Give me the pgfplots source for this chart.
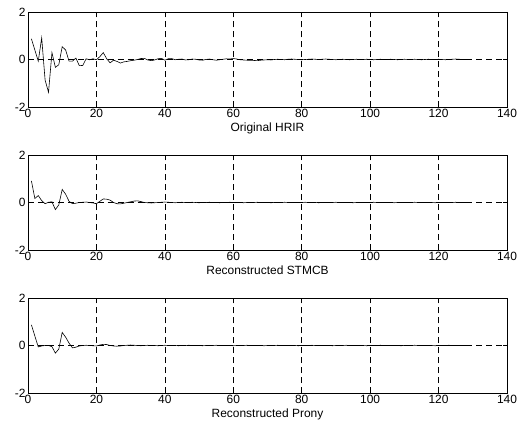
\documentclass[border=0pt]{standalone}
\usepackage{fontspec}
\setmainfont{Liberation Sans}
\usepackage{pgfplots}
\pgfplotsset{compat=1.18}
\usepackage{pgfplotstable}

\pgfplotstableread{
x y
1 0.87
2 0.40
3 -0.07
4 0.91
5 -0.87
6 -1.38
7 0.29
8 -0.33
9 -0.22
10 0.54
11 0.40
12 -0.07
13 -0.07
14 0.06
15 -0.26
16 -0.25
17 0.03
18 -0.01
19 0.03
20 -0.01
21 0.12
22 0.29
23 0.03
24 -0.14
25 -0.03
26 -0.08
27 -0.15
28 -0.10
29 -0.08
30 -0.05
31 -0.03
32 0.00
33 0.04
34 0.05
35 -0.02
36 -0.05
37 -0.02
38 0.03
39 0.05
40 -0.03
41 0.03
42 0.04
43 -0.01
44 0.01
45 0.02
46 -0.02
47 -0.01
48 0.02
49 0.01
50 -0.02
51 -0.03
52 0.00
53 0.02
54 -0.01
55 -0.03
56 -0.01
57 0.01
58 0.03
59 0.02
60 0.04
61 0.02
62 -0.01
63 -0.02
64 -0.03
65 -0.04
66 -0.04
67 -0.05
68 -0.03
69 -0.02
70 -0.01
71 -0.02
72 0.00
73 0.01
74 0.00
75 -0.01
76 0.01
77 0.02
78 0.01
79 0.00
80 -0.01
81 0.00
82 0.01
83 0.02
84 0.01
85 0.00
86 0.01
87 0.02
88 0.01
89 0.00
90 -0.01
91 0.00
92 0.01
93 0.00
94 -0.01
95 0.00
96 0.01
97 0.00
98 0.00
99 0.01
100 0.00
101 -0.01
102 0.00
103 0.01
104 0.00
105 0.00
106 0.01
107 0.00
108 -0.01
109 0.00
110 0.01
111 0.00
112 0.00
113 0.01
114 0.00
115 -0.01
116 0.00
117 0.01
118 0.00
119 0.00
120 0.01
121 0.00
122 -0.01
123 0.00
124 0.01
125 0.02
126 0.01
127 0.00
128 0.00
}\hrir

\pgfplotstableread{
x y
1 0.91
2 0.17
3 0.29
4 0.08
5 -0.05
6 0.01
7 0.03
8 -0.30
9 -0.10
10 0.55
11 0.35
12 0.05
13 -0.05
14 -0.03
15 0.00
16 0.01
17 0.02
18 0.00
19 -0.02
20 -0.05
21 0.05
22 0.15
23 0.14
24 0.10
25 0.00
26 -0.05
27 -0.06
28 -0.03
29 0.00
30 0.03
31 0.06
32 0.07
33 0.04
34 0.00
35 -0.01
36 -0.02
37 -0.01
38 0.00
39 0.01
40 0.02
41 0.01
42 0.00
43 -0.01
44 0.00
45 0.01
46 0.00
47 0.00
48 0.01
49 0.00
50 -0.01
51 0.00
52 0.00
53 0.01
54 0.00
55 0.00
56 -0.01
57 0.00
58 0.00
59 0.01
60 0.00
61 0.00
62 0.00
63 -0.01
64 0.00
65 0.00
66 0.00
67 0.01
68 0.00
69 0.00
70 0.00
71 -0.01
72 0.00
73 0.00
74 0.00
75 0.01
76 0.00
77 0.00
78 0.00
79 0.00
80 0.00
81 0.01
82 0.00
83 0.00
84 0.00
85 -0.01
86 0.00
87 0.00
88 0.00
89 0.00
90 0.01
91 0.00
92 0.00
93 0.00
94 0.00
95 -0.01
96 0.00
97 0.00
98 0.00
99 0.00
100 0.00
101 0.01
102 0.00
103 0.00
104 0.00
105 0.00
106 0.00
107 -0.01
108 0.00
109 0.00
110 0.00
111 0.00
112 0.00
113 0.01
114 0.00
115 0.00
116 0.00
117 0.00
118 0.00
119 -0.01
120 0.00
121 0.00
122 0.00
123 0.00
124 0.00
125 0.01
126 0.00
127 0.00
128 0.00
}\stmcb

\pgfplotstableread{
x y
1 0.87
2 0.40
3 -0.06
4 -0.02
5 0.00
6 0.00
7 -0.05
8 -0.32
9 -0.15
10 0.55
11 0.35
12 0.10
13 -0.10
14 -0.07
15 -0.02
16 0.00
17 0.01
18 0.00
19 -0.01
20 -0.02
21 0.02
22 0.05
23 0.04
24 0.00
25 -0.02
26 -0.03
27 -0.02
28 0.00
29 0.01
30 0.02
31 0.01
32 0.00
33 -0.01
34 0.00
35 0.01
36 0.00
37 0.00
38 -0.01
39 0.00
40 0.01
41 0.00
42 0.00
43 0.00
44 -0.01
45 0.00
46 0.00
47 0.01
48 0.00
49 0.00
50 0.00
51 -0.01
52 0.00
53 0.00
54 0.00
55 0.01
56 0.00
57 0.00
58 0.00
59 0.00
60 -0.01
61 0.00
62 0.00
63 0.00
64 0.01
65 0.00
66 0.00
67 0.00
68 0.00
69 -0.01
70 0.00
71 0.00
72 0.00
73 0.01
74 0.00
75 0.00
76 0.00
77 0.00
78 0.00
79 -0.01
80 0.00
81 0.00
82 0.00
83 0.01
84 0.00
85 0.00
86 0.00
87 0.00
88 0.00
89 -0.01
90 0.00
91 0.00
92 0.00
93 0.01
94 0.00
95 0.00
96 0.00
97 0.00
98 0.00
99 -0.01
100 0.00
101 0.00
102 0.00
103 0.01
104 0.00
105 0.00
106 0.00
107 0.00
108 0.00
109 -0.01
110 0.00
111 0.00
112 0.00
113 0.01
114 0.00
115 0.00
116 0.00
117 0.00
118 0.00
119 -0.01
120 0.00
121 0.00
122 0.00
123 0.01
124 0.00
125 0.00
126 0.00
127 0.00
128 0.00
}\prony

\pgfplotsset{
  hrstyle/.style={
    width=479bp, height=95bp, scale only axis,
    anchor=north west,
    xmin=0, xmax=140, ymin=-2, ymax=2,
    xtick={0,20,...,140}, ytick={-2,0,2},
    grid=major,
    major grid style={black, line width=0.6pt, dash pattern=on 6pt off 4pt},
    axis line style={black, line width=0.8pt},
    tick style={black, line width=0.6pt},
    tick align=inside,
    major tick length=4bp,
    /pgf/number format/assume math mode=true,
    tick label style={font=\fontsize{12}{14}\selectfont},
    label style={font=\fontsize{12}{14}\selectfont},
    xticklabel style={yshift=1bp},
    yticklabel style={xshift=1bp},
    xlabel style={yshift=2bp},
  },
  hrline/.style={black, line width=0.6pt, no marks},
}

\begin{document}
\begin{tikzpicture}
\path[use as bounding box] (0,0) rectangle (526bp,-430bp);
\begin{axis}[hrstyle, at={(28bp,-12bp)}, xlabel={Original HRIR}]
\addplot[hrline] table[x=x,y=y] {\hrir};
\end{axis}
\begin{axis}[hrstyle, at={(28bp,-155bp)}, xlabel={Reconstructed STMCB}]
\addplot[hrline] table[x=x,y=y] {\stmcb};
\end{axis}
\begin{axis}[hrstyle, at={(28bp,-298bp)}, xlabel={Reconstructed Prony}]
\addplot[hrline] table[x=x,y=y] {\prony};
\end{axis}
\end{tikzpicture}
\end{document}
